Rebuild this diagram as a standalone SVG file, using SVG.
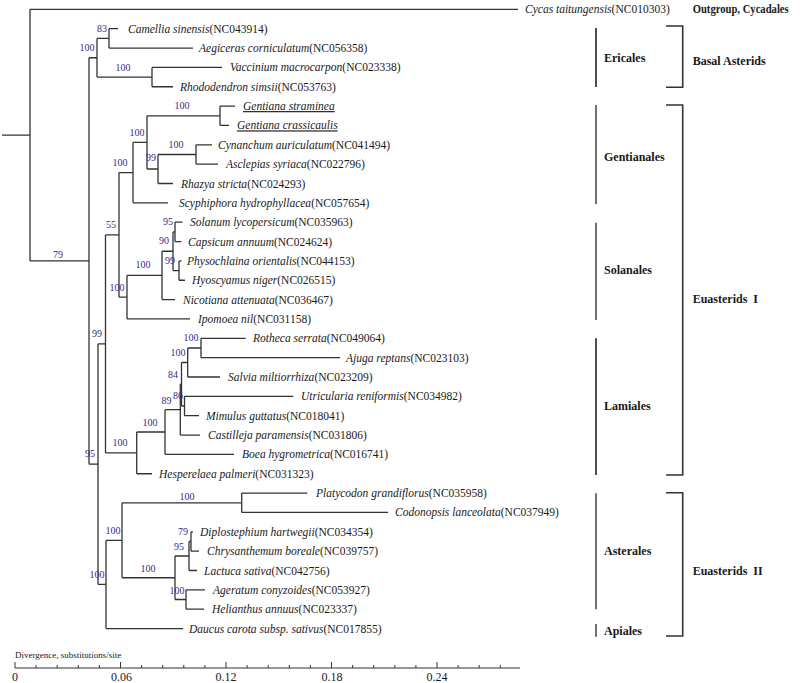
<svg xmlns="http://www.w3.org/2000/svg" width="800" height="683" viewBox="0 0 800 683">
<style>
text{font-family:"Liberation Serif","Times New Roman",serif;fill:#1a1a1a}
.tip{font-size:11.5px}
.i{font-style:italic}
.u{text-decoration:underline}
.bs{font-size:10px;fill:#3a2a86;text-anchor:middle}
.cl{font-size:12px;font-weight:bold}
.tree{fill:none;stroke:#333;stroke-width:1.3}
.barg{stroke:#707070;stroke-width:2;fill:none}
.bard{stroke:#222;stroke-width:1.6;fill:none}
.brk{stroke:#333;stroke-width:1.6;fill:none}
.ax{stroke:#333;stroke-width:1;fill:none}
.axl{font-size:12px;text-anchor:middle}
</style>
<rect width="800" height="683" fill="#fff"/>
<g id="connectors" class="tree">
<path d="M2,135.15H30M30,9.35V260.95M30,9.35H518M30,260.95H89"/>
<path d="M89,57.75V464.15M89,57.75H97M89,464.15H98"/>
<path d="M97,38.4V77.1M97,38.4H109M97,77.1H152"/>
<path d="M109,28.7V48.05M109,28.7H118M109,48.05H193"/>
<path d="M152,67.4V86.75M152,67.4H222M152,86.75H173"/>
<path d="M98,343.9V584.4M98,343.9H105.5M98,584.4H106"/>
<path d="M105.5,234.9V452.9M105.5,234.9H119M105.5,452.9H136.7"/>
<path d="M119,172.6V297.2M119,172.6H133M119,297.2H127"/>
<path d="M133,142.4V202.85M133,142.4H147M133,202.85H168"/>
<path d="M147,115.8V169M147,115.8H220M147,169H158"/>
<path d="M220,106.1V125.45M220,106.1H235M220,125.45H229"/>
<path d="M158,154.5V183.5M158,154.5H196M158,183.5H173"/>
<path d="M196,144.8V164.15M196,144.8H212M196,164.15H218"/>
<path d="M127,275.4V318.95M127,275.4H162M127,318.95H190"/>
<path d="M162,251.25V299.6M162,251.25H173M162,299.6H175"/>
<path d="M173,231.9V270.6M173,231.9H175M173,270.6H179"/>
<path d="M175,222.2V241.55M175,222.2H182.5M175,241.55H181.5"/>
<path d="M179,260.9V280.25M179,260.9H181.5M179,280.25H185"/>
<path d="M136.7,432V473.75M136.7,432H165M136.7,473.75H152"/>
<path d="M165,409.65V454.4M165,409.65H180.3M165,454.4H234"/>
<path d="M180.3,384.25V435.05M180.3,384.25H181.5M180.3,435.05H200"/>
<path d="M181.5,362.5V406M181.5,362.5H187.7M181.5,406H184.5"/>
<path d="M187.7,348V377M187.7,348H201M187.7,377H220"/>
<path d="M201,338.3V357.65M201,338.3H245.7M201,357.65H340"/>
<path d="M184.5,396.35V415.7M184.5,396.35H293.3M184.5,415.7H199"/>
<path d="M106,540.3V628.55M106,540.3H122M106,628.55H183"/>
<path d="M122,502.8V577.75M122,502.8H241.7M122,577.75H175"/>
<path d="M241.7,493.1V512.45M241.7,493.1H307.3M241.7,512.45H388"/>
<path d="M175,556V599.5M175,556H189M175,599.5H186"/>
<path d="M189,541.5V570.5M189,541.5H191M189,570.5H197"/>
<path d="M191,531.8V551.15M191,531.8H193M191,551.15H199"/>
<path d="M186,589.85V609.2M186,589.85H205M186,609.2H204"/>
</g>
<g id="support">
<text class="bs" x="58" y="257.5">79</text>
<text class="bs" x="87" y="50.5">100</text>
<text class="bs" x="102" y="31.5">83</text>
<text class="bs" x="123" y="70.5">100</text>
<text class="bs" x="90" y="456.5">95</text>
<text class="bs" x="97" y="336.5">99</text>
<text class="bs" x="111" y="227.5">55</text>
<text class="bs" x="120" y="165.5">100</text>
<text class="bs" x="137" y="135.5">100</text>
<text class="bs" x="182" y="108.5">100</text>
<text class="bs" x="151" y="160.5">99</text>
<text class="bs" x="176" y="147.5">100</text>
<text class="bs" x="117" y="290.5">100</text>
<text class="bs" x="143" y="267.5">100</text>
<text class="bs" x="164" y="244">90</text>
<text class="bs" x="168" y="224.5">95</text>
<text class="bs" x="170" y="263.5">99</text>
<text class="bs" x="120" y="445.5">100</text>
<text class="bs" x="150" y="425.5">100</text>
<text class="bs" x="166.5" y="404">89</text>
<text class="bs" x="173" y="377.5">84</text>
<text class="bs" x="178" y="355.5">100</text>
<text class="bs" x="191" y="340.5">100</text>
<text class="bs" x="178" y="398.5">86</text>
<text class="bs" x="97" y="577.5">100</text>
<text class="bs" x="113" y="534">100</text>
<text class="bs" x="187" y="500">100</text>
<text class="bs" x="148" y="571.5">100</text>
<text class="bs" x="179" y="549.5">95</text>
<text class="bs" x="183" y="535">79</text>
<text class="bs" x="177" y="593.5">100</text>
</g>
<g id="cycas"><text class="tip" x="525" y="13.3"><tspan class="i">Cycas taitungensis</tspan>(NC010303)</text></g>
<g id="camellia"><text class="tip" x="128" y="32.7"><tspan class="i">Camellia sinensis</tspan>(NC043914)</text></g>
<g id="aegiceras"><text class="tip" x="199" y="52"><tspan class="i">Aegiceras corniculatum</tspan>(NC056358)</text></g>
<g id="vaccinium"><text class="tip" x="230" y="71.4"><tspan class="i">Vaccinium macrocarpon</tspan>(NC023338)</text></g>
<g id="rhododendron"><text class="tip" x="180" y="90.7"><tspan class="i">Rhododendron simsii</tspan>(NC053763)</text></g>
<g id="g-straminea"><text class="tip i u" x="243" y="110.1">Gentiana straminea</text></g>
<g id="g-crassicaulis"><text class="tip i u" x="237" y="129.4">Gentiana crassicaulis</text></g>
<g id="cynanchum"><text class="tip" x="218" y="148.8"><tspan class="i">Cynanchum auriculatum</tspan>(NC041494)</text></g>
<g id="asclepias"><text class="tip" x="226" y="168.1"><tspan class="i">Asclepias syriaca</tspan>(NC022796)</text></g>
<g id="rhazya"><text class="tip" x="181" y="187.5"><tspan class="i">Rhazya stricta</tspan>(NC024293)</text></g>
<g id="scyphiphora"><text class="tip" x="179" y="206.8"><tspan class="i">Scyphiphora hydrophyllacea</tspan>(NC057654)</text></g>
<g id="solanum"><text class="tip" x="190" y="226.2"><tspan class="i">Solanum lycopersicum</tspan>(NC035963)</text></g>
<g id="capsicum"><text class="tip" x="188" y="245.5"><tspan class="i">Capsicum annuum</tspan>(NC024624)</text></g>
<g id="physochlaina"><text class="tip" x="187" y="264.9"><tspan class="i">Physochlaina orientalis</tspan>(NC044153)</text></g>
<g id="hyoscyamus"><text class="tip" x="192" y="284.2"><tspan class="i">Hyoscyamus niger</tspan>(NC026515)</text></g>
<g id="nicotiana"><text class="tip" x="183" y="303.6"><tspan class="i">Nicotiana attenuata</tspan>(NC036467)</text></g>
<g id="ipomoea"><text class="tip" x="198" y="322.9"><tspan class="i">Ipomoea nil</tspan>(NC031158)</text></g>
<g id="rotheca"><text class="tip" x="253" y="342.3"><tspan class="i">Rotheca serrata</tspan>(NC049064)</text></g>
<g id="ajuga"><text class="tip" x="346" y="361.6"><tspan class="i">Ajuga reptans</tspan>(NC023103)</text></g>
<g id="salvia"><text class="tip" x="228" y="381"><tspan class="i">Salvia miltiorrhiza</tspan>(NC023209)</text></g>
<g id="utricularia"><text class="tip" x="301" y="400.3"><tspan class="i">Utricularia reniformis</tspan>(NC034982)</text></g>
<g id="mimulus"><text class="tip" x="206" y="419.7"><tspan class="i">Mimulus guttatus</tspan>(NC018041)</text></g>
<g id="castilleja"><text class="tip" x="208" y="439"><tspan class="i">Castilleja paramensis</tspan>(NC031806)</text></g>
<g id="boea"><text class="tip" x="242" y="458.4"><tspan class="i">Boea hygrometrica</tspan>(NC016741)</text></g>
<g id="hesperelaea"><text class="tip" x="159" y="477.7"><tspan class="i">Hesperelaea palmeri</tspan>(NC031323)</text></g>
<g id="platycodon"><text class="tip" x="316" y="497.1"><tspan class="i">Platycodon grandiflorus</tspan>(NC035958)</text></g>
<g id="codonopsis"><text class="tip" x="395" y="516.4"><tspan class="i">Codonopsis lanceolata</tspan>(NC037949)</text></g>
<g id="diplostephium"><text class="tip" x="200" y="535.8"><tspan class="i">Diplostephium hartwegii</tspan>(NC034354)</text></g>
<g id="chrysanthemum"><text class="tip" x="207" y="555.1"><tspan class="i">Chrysanthemum boreale</tspan>(NC039757)</text></g>
<g id="lactuca"><text class="tip" x="204" y="574.5"><tspan class="i">Lactuca sativa</tspan>(NC042756)</text></g>
<g id="ageratum"><text class="tip" x="213" y="593.8"><tspan class="i">Ageratum conyzoides</tspan>(NC053927)</text></g>
<g id="helianthus"><text class="tip" x="212" y="613.2"><tspan class="i">Helianthus annuus</tspan>(NC023337)</text></g>
<g id="daucus"><text class="tip" x="189" y="632.5"><tspan class="i">Daucus carota subsp. sativus</tspan>(NC017855)</text></g>
<g id="outgroup-label"><text class="cl" x="692.7" y="13.3" textLength="96" lengthAdjust="spacingAndGlyphs">Outgroup, Cycadales</text></g>
<g id="ericales"><path class="bard" d="M596,28V87"/><text class="cl" x="604" y="61.5">Ericales</text></g>
<g id="gentianales"><path class="barg" d="M596,105V204"/><text class="cl" x="604" y="161">Gentianales</text></g>
<g id="solanales"><path class="barg" d="M596,222.7V320"/><text class="cl" x="604" y="273.5">Solanales</text></g>
<g id="lamiales"><path class="bard" d="M596,338.3V475"/><text class="cl" x="604" y="410">Lamiales</text></g>
<g id="asterales"><path class="barg" d="M596,493.3V609.3"/><text class="cl" x="604" y="555">Asterales</text></g>
<g id="apiales"><path class="barg" d="M596,624V636.7"/><text class="cl" x="604" y="635">Apiales</text></g>
<g id="basal-asterids"><path class="brk" d="M666,26H682.7V87.3H666"/><text class="cl" x="692.7" y="64.5">Basal Asterids</text></g>
<g id="euasterids-1"><path class="brk" d="M666,105H682.7V475H666"/><text class="cl" x="692.7" y="302.5" xml:space="preserve">Euasterids  I</text></g>
<g id="euasterids-2"><path class="brk" d="M666,492.7H682.7V636H666"/><text class="cl" x="692.7" y="575" xml:space="preserve">Euasterids  II</text></g>
<g id="axis">
<text x="15" y="658" style="font-size:9px">Divergence, substitutions/site</text>
<path class="ax" d="M15,668H520M15,662V668M120.5,662V668M226,662V668M331.5,662V668M437,662V668M36.1,665V668M57.2,665V668M78.3,665V668M99.4,665V668M141.6,665V668M162.7,665V668M183.8,665V668M204.9,665V668M247.1,665V668M268.2,665V668M289.3,665V668M310.4,665V668M352.6,665V668M373.7,665V668M394.8,665V668M415.9,665V668M458.1,665V668M479.2,665V668M500.3,665V668"/>
<text class="axl" x="15" y="681">0</text>
<text class="axl" x="121.5" y="681">0.06</text>
<text class="axl" x="226" y="681">0.12</text>
<text class="axl" x="332" y="681">0.18</text>
<text class="axl" x="437" y="681">0.24</text>
</g>
</svg>
